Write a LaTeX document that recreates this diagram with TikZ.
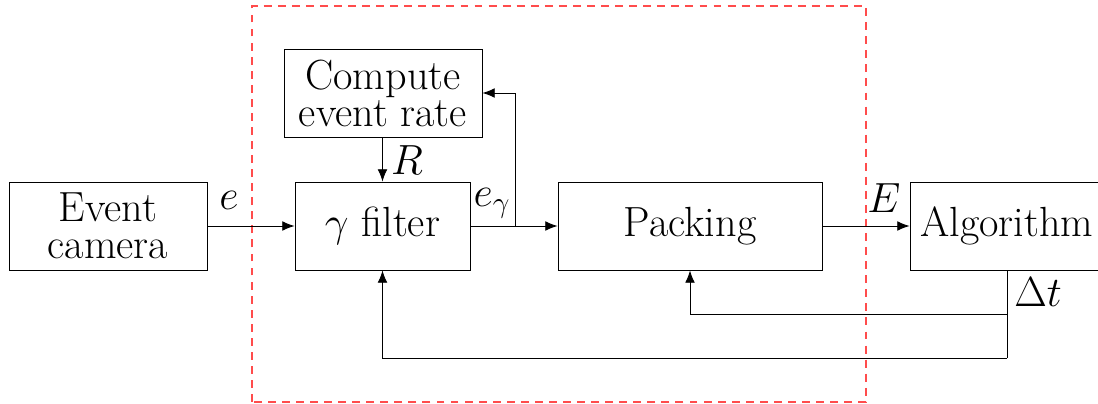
\documentclass[tikz,border=0pt]{standalone}
\usepackage{fix-cm}
\usetikzlibrary{arrows.meta}

\begin{document}
\begin{tikzpicture}[line width=0.5pt,
sysblock/.style={draw,rectangle,inner sep=0pt,minimum height=1.76cm,align=center,font=\fontsize{24}{21}\selectfont},
sigline/.style={-{Latex[length=7pt,width=5.5pt]}},
frame/.style={red!70,dash pattern=on 4.5pt off 3.5pt,line width=0.6pt},
siglabel/.style={font=\fontsize{24}{21}\selectfont}]

\useasboundingbox (0,-3.56) rectangle (21.96,4.52);

\draw[frame] (5.04,-3.52) rectangle (17.32,4.4);

\draw (2.16,0) node[sysblock,minimum width=3.96cm] (cam) {Event\\camera};
\draw (7.65,0) node[sysblock,minimum width=3.5cm] (filt) {$\gamma$ filter};
\draw (7.66,2.66) node[sysblock,minimum width=3.96cm] (rate) {Compute\\event rate};
\draw (13.8,0) node[sysblock,minimum width=5.28cm] (pack) {Packing};
\draw (20.14,0) node[sysblock,minimum width=3.88cm] (alg) {Algorithm};

\coordinate (fork) at (10.3,0);
\coordinate (dtA) at (20.14,-1.76);
\coordinate (dtB) at (20.14,-2.64);

\draw[sigline] (cam) -- (filt);
\draw[sigline] (filt) -- (pack);
\draw[sigline] (fork) |- (rate.east);
\draw[sigline] (rate.south -| filt.north) -- (filt);
\draw[sigline] (pack) -- (alg);
\draw (alg.south) -- (dtB);
\draw[sigline] (dtA) -| (pack.south);
\draw[sigline] (dtB) -| (filt.south);

\draw (4.58,0.52) node[siglabel] {$e$};
\draw (9.84,0.46) node[siglabel] {$e_\gamma$};
\draw (8.14,1.32) node[siglabel] {$R$};
\draw (17.68,0.56) node[siglabel] {$E$};
\draw (20.76,-1.32) node[siglabel] {$\Delta t$};

\end{tikzpicture}
\end{document}
